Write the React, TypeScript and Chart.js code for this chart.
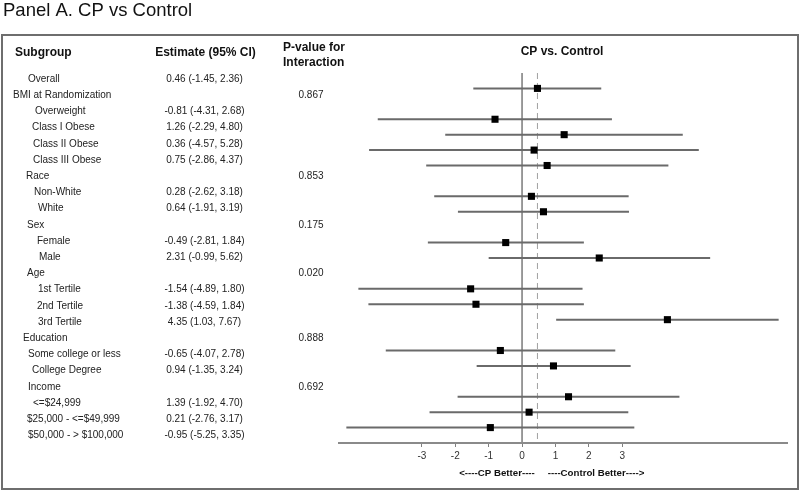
import React, { useEffect, useRef } from "react";
import { Chart, registerables } from "chart.js";

Chart.register(...registerables);

const subgroups = [
  "Overall",
  "BMI at Randomization",
  "Overweight",
  "Class I Obese",
  "Class II Obese",
  "Class III Obese",
  "Race",
  "Non-White",
  "White",
  "Sex",
  "Female",
  "Male",
  "Age",
  "1st Tertile",
  "2nd Tertile",
  "3rd Tertile",
  "Education",
  "Some college or less",
  "College Degree",
  "Income",
  "<=$24,999",
  "$25,000 - <=$49,999",
  "$50,000 - > $100,000",
];

const estimates = [0.46, null, -0.81, 1.26, 0.36, 0.75, null, 0.28, 0.64, null, -0.49, 2.31, null, -1.54, -1.38, 4.35, null, -0.65, 0.94, null, 1.39, 0.21, -0.95];
const lowerCI = [-1.45, null, -4.31, -2.29, -4.57, -2.86, null, -2.62, -1.91, null, -2.81, -0.99, null, -4.89, -4.59, 1.03, null, -4.07, -1.35, null, -1.92, -2.76, -5.25];
const upperCI = [2.36, null, 2.68, 4.8, 5.28, 4.37, null, 3.18, 3.19, null, 1.84, 5.62, null, 1.8, 1.84, 7.67, null, 2.78, 3.24, null, 4.7, 3.17, 3.35];
const pValues = ["", "0.867", "", "", "", "", "0.853", "", "", "0.175", "", "", "0.020", "", "", "", "0.888", "", "", "0.692", "", "", ""];
const xTickValues = [-3, -2, -1, 0, 1, 2, 3];

// layout: left x of each subgroup label (pixels)
const labelIndent = [28, 13, 35, 32, 33, 33, 26, 34, 38, 27, 37, 39, 27, 38, 37, 38, 23, 28, 32, 28, 33, 27, 28];

const FONT = "'Liberation Sans', Arial, sans-serif";

const textPlugin = {
  id: "forestText",
  beforeDraw(chart: any) {
    const ctx = chart.ctx;
    ctx.save();
    ctx.fillStyle = "#fff";
    ctx.fillRect(0, 0, chart.width, chart.height);
    ctx.restore();
  },
  afterDraw(chart: any) {
    const ctx = chart.ctx;
    const yText = chart.scales.yText;
    ctx.save();
    // frame
    ctx.strokeStyle = "#6e6e6e";
    ctx.lineWidth = 2;
    ctx.strokeRect(2, 35, 796, 454);

    // title
    ctx.fillStyle = "#111";
    ctx.font = `18.5px ${FONT}`;
    ctx.textAlign = "left";
    ctx.textBaseline = "alphabetic";
    ctx.fillText("Panel A. CP vs Control", 3, 16);

    // headers
    ctx.textBaseline = "middle";
    ctx.font = `bold 12px ${FONT}`;
    ctx.fillStyle = "#111";
    ctx.textAlign = "left";
    ctx.fillText("Subgroup", 15, 53);
    ctx.fillText("P-value for", 283, 48);
    ctx.fillText("Interaction", 283, 63);
    ctx.textAlign = "center";
    ctx.fillText("Estimate (95% CI)", 205.5, 53);
    ctx.fillText("CP vs. Control", 562, 52);

    // rows
    ctx.font = `10px ${FONT}`;
    ctx.fillStyle = "#222";
    subgroups.forEach((label, i) => {
      const y = yText.getPixelForValue(i);
      ctx.textAlign = "left";
      ctx.fillText(label, labelIndent[i], y);
      const e = estimates[i];
      const lo = lowerCI[i];
      const hi = upperCI[i];
      if (e !== null && lo !== null && hi !== null) {
        ctx.textAlign = "center";
        ctx.fillText(`${e.toFixed(2)} (${lo.toFixed(2)}, ${hi.toFixed(2)})`, 204.5, y);
      }
      if (pValues[i]) {
        ctx.textAlign = "center";
        ctx.fillText(pValues[i], 311, y);
      }
    });

    // direction labels
    ctx.font = `bold 9.7px ${FONT}`;
    ctx.fillStyle = "#111";
    ctx.textAlign = "center";
    ctx.fillText("<----CP Better----", 497, 473);
    ctx.fillText("----Control Better---->", 596, 473);
    ctx.restore();
  },
};

export default function App() {
  const canvasRef = useRef<HTMLCanvasElement | null>(null);

  useEffect(() => {
    if (!canvasRef.current) return;
    const rows = subgroups.map((_, i) => i).filter((i) => estimates[i] !== null);
    const overall = estimates[0] as number;
    const chart = new Chart(canvasRef.current, {
      type: "scatter",
      data: {
        datasets: [
          {
            type: "scatter",
            label: "Estimate",
            data: rows.map((i) => ({ x: estimates[i] as number, y: i })),
            pointStyle: "rect",
            pointRadius: 5,
            pointBorderWidth: 0,
            pointBackgroundColor: "#000",
            backgroundColor: "#000",
            order: 0,
            xAxisID: "x",
            yAxisID: "y",
          } as any,
          {
            type: "bar",
            label: "95% CI",
            indexAxis: "y",
            data: rows.map((i) => ({ x: [lowerCI[i] as number, upperCI[i] as number], y: i })),
            backgroundColor: "#6a6a6a",
            borderWidth: 0,
            barThickness: 1.3,
            order: 1,
            xAxisID: "x",
            yAxisID: "y",
          } as any,
          {
            type: "line",
            label: "No effect",
            data: [
              { x: 0, y: -1 },
              { x: 0, y: 23 },
            ],
            borderColor: "#8c8c8c",
            borderWidth: 1,
            pointRadius: 0,
            order: 2,
            xAxisID: "x",
            yAxisID: "y",
          } as any,
          {
            type: "line",
            label: "Overall",
            data: [
              { x: overall, y: -1 },
              { x: overall, y: 23 },
            ],
            borderColor: "#a0a0a0",
            borderWidth: 1,
            borderDash: [6, 4],
            pointRadius: 0,
            order: 2,
            xAxisID: "x",
            yAxisID: "y",
          } as any,
        ],
      },
      options: {
        animation: false,
        responsive: false,
        events: [],
        layout: { padding: { left: 339, right: 13, top: 73, bottom: 0 } },
        plugins: { legend: { display: false }, tooltip: { enabled: false }, title: { display: false } },
        scales: {
          x: {
            type: "linear",
            position: "bottom",
            offset: false,
            min: -5.48,
            max: 7.93,
            afterBuildTicks: (scale: any) => {
              scale.ticks = xTickValues.map((v) => ({ value: v }));
            },
            afterFit: (scale: any) => {
              scale.height = 48;
            },
            grid: { drawOnChartArea: false, drawTicks: true, tickLength: 4, color: "#808080", offset: false },
            border: { display: true, color: "#8a8a8a", width: 2 },
            ticks: { font: { size: 10, family: FONT }, color: "#333", padding: 3 },
          },
          y: {
            type: "linear",
            display: false,
            reverse: true,
            offset: false,
            grid: { offset: false },
            min: -1,
            max: 23,
          },
          yText: {
            type: "linear",
            display: false,
            reverse: true,
            offset: false,
            min: -0.37,
            max: 22.47,
          },
        },
      } as any,
      plugins: [textPlugin],
    });
    return () => chart.destroy();
  }, []);

  return (
    <div style={{ position: "fixed", left: 0, top: 0, width: 800, height: 491, background: "#fff" }}>
      <canvas ref={canvasRef} width={800} height={491} style={{ display: "block" }} />
    </div>
  );
}
